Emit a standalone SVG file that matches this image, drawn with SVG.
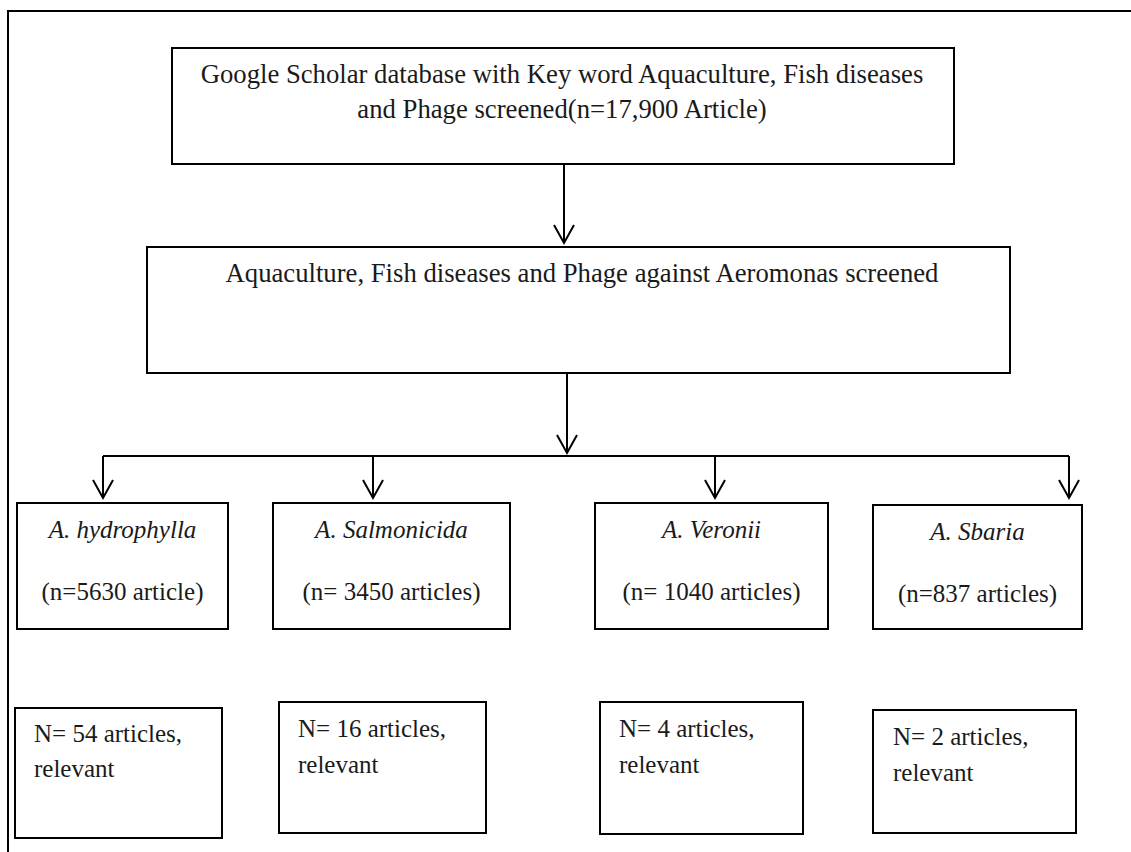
<svg xmlns="http://www.w3.org/2000/svg" width="1131" height="852" viewBox="0 0 1131 852">
<style>
.box{fill:#fff;stroke:#000;stroke-width:2}
.ln{fill:none;stroke:#000;stroke-width:2}
.t{font-family:"Liberation Serif","Times New Roman",serif;font-size:25px;fill:#1a1a1a}
.h{font-size:26.7px}
.c{text-anchor:middle}
.i{font-style:italic}
</style>
<rect width="1131" height="852" fill="#fff"/>
<g id="frame">
<path class="ln" d="M8 852 V11 H1131"/>
</g>
<g id="connectors">
<path class="ln" d="M564 164 V243"/>
<path class="ln" d="M567 373 V453"/>
<path class="ln" d="M103 456 H1069"/>
<path class="ln" d="M103 456 V498"/>
<path class="ln" d="M373 456 V498"/>
<path class="ln" d="M715 456 V498"/>
<path class="ln" d="M1069 456 V498"/>
<path class="ln" d="M554 225 L564 243 L574 225"/>
<path class="ln" d="M557 435 L567 453 L577 435"/>
<path class="ln" d="M93 480 L103 498 L113 480"/>
<path class="ln" d="M363 480 L373 498 L383 480"/>
<path class="ln" d="M705 480 L715 498 L725 480"/>
<path class="ln" d="M1059 480 L1069 498 L1079 480"/>
</g>
<g id="n1">
<rect class="box" x="172" y="48" width="782" height="116"/>
<text class="t h c" x="562" y="83">Google Scholar database with Key word Aquaculture, Fish diseases</text>
<text class="t h c" x="562" y="118">and Phage screened(n=17,900 Article)</text>
</g>
<g id="n2">
<rect class="box" x="147" y="247" width="863" height="126"/>
<text class="t h c" x="582" y="282">Aquaculture, Fish diseases and Phage against Aeromonas screened</text>
</g>
<g id="n3">
<rect class="box" x="17" y="503" width="211" height="126"/>
<text class="t c i" x="122.5" y="538">A. hydrophylla</text>
<text class="t c" x="122.5" y="600">(n=5630 article)</text>
</g>
<g id="n4">
<rect class="box" x="273" y="503" width="237" height="126"/>
<text class="t c i" x="391.5" y="538">A. Salmonicida</text>
<text class="t c" x="391.5" y="600">(n= 3450 articles)</text>
</g>
<g id="n5">
<rect class="box" x="595" y="503" width="233" height="126"/>
<text class="t c i" x="711.5" y="538">A. Veronii</text>
<text class="t c" x="711.5" y="600">(n= 1040 articles)</text>
</g>
<g id="n6">
<rect class="box" x="873" y="505" width="209" height="124"/>
<text class="t c i" x="977.5" y="540">A. Sbaria</text>
<text class="t c" x="977.5" y="602">(n=837 articles)</text>
</g>
<g id="n7">
<rect class="box" x="15" y="708" width="207" height="130"/>
<text class="t" x="34" y="742">N= 54 articles,</text>
<text class="t" x="34" y="777">relevant</text>
</g>
<g id="n8">
<rect class="box" x="279" y="702" width="207" height="131"/>
<text class="t" x="298" y="737">N= 16 articles,</text>
<text class="t" x="298" y="773">relevant</text>
</g>
<g id="n9">
<rect class="box" x="600" y="702" width="203" height="132"/>
<text class="t" x="619" y="737">N= 4 articles,</text>
<text class="t" x="619" y="773">relevant</text>
</g>
<g id="n10">
<rect class="box" x="873" y="710" width="203" height="123"/>
<text class="t" x="893" y="745">N= 2 articles,</text>
<text class="t" x="893" y="781">relevant</text>
</g>
</svg>
